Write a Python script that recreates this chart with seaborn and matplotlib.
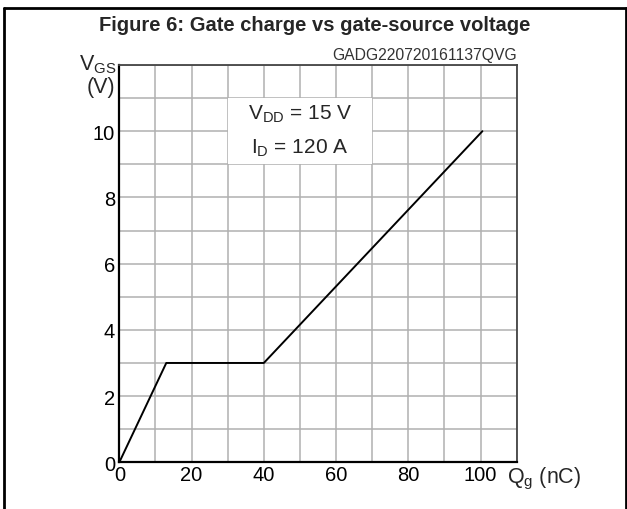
import numpy as np
import pandas as pd
import matplotlib.pyplot as plt
import seaborn as sns
from matplotlib.patches import Rectangle
from matplotlib.lines import Line2D

sns.set_theme(style="whitegrid")
plt.rcParams['font.family'] = ['Liberation Sans', 'DejaVu Sans']
plt.rcParams['mathtext.fontset'] = 'custom'
plt.rcParams['mathtext.rm'] = 'Liberation Sans'

# curve points
qg = [0, 13, 40, 100.5]
vgs = [0, 3, 3, 10]

x_ticks = [0, 10, 20, 30, 40, 50, 60, 70, 80, 90, 100, 110]
x_labels = ["0", "", "20", "", "40", "", "60", "", "80", "", "100", ""]
y_ticks = [0, 1, 2, 3, 4, 5, 6, 7, 8, 9, 10, 11, 12]
y_labels = ["0", "", "2", "", "4", "", "6", "", "8", "", "10", "", ""]

df = pd.DataFrame({"Qg": qg, "VGS": vgs})

fig = plt.figure(figsize=(6.27, 5.10), dpi=100)
ax = fig.add_axes([0.1903, 0.0916, 0.6338, 0.779])

sns.lineplot(data=df, x="Qg", y="VGS", ax=ax, color="black", linewidth=1.4,
             sort=False, zorder=3)

ax.set_xlim(0, 110)
ax.set_ylim(0, 12)
ax.set_xticks(x_ticks)
ax.set_xticklabels(x_labels)
ax.set_yticks(y_ticks)
ax.set_yticklabels(y_labels)
ax.tick_params(axis="both", length=0, labelsize=14.5, colors="black")
ax.tick_params(axis="x", pad=2)
ax.tick_params(axis="y", pad=3)
ax.grid(True, color="#b0b0b0", linewidth=1.1)
ax.set_axisbelow(True)
ax.set_xlabel("")
ax.set_ylabel("")

for side in ["left", "bottom"]:
    ax.spines[side].set_color("black")
    ax.spines[side].set_linewidth(1.6)
for side in ["top", "right"]:
    ax.spines[side].set_color("#444444")
    ax.spines[side].set_linewidth(1.3)

# white box behind the conditions text
ax.add_patch(Rectangle((30, 9), 40, 2, facecolor="white", edgecolor="none", zorder=1))
ax.text(50, 10.55, r"$\mathregular{V_{DD}}$ = 15 V", ha="center", va="center", fontsize=15, zorder=4)
ax.text(50, 9.5, r"$\mathregular{I_{D}}$ = 120 A", ha="center", va="center", fontsize=15, zorder=4)

ax.text(1.0, 1.008, "GADG220720161137QVG", transform=ax.transAxes, ha="right", va="bottom",
        fontsize=11.3, color="#333333")

fig.text(117 / 627, 1 - 70 / 510, r"$\mathregular{V_{GS}}$", ha="right", va="baseline", fontsize=15.5)
fig.text(115 / 627, 1 - 93 / 510, "(V)", ha="right", va="baseline", fontsize=15.5)
fig.text(507 / 627, 1 - 483 / 510, r"$\mathregular{Q_{g}}$ (nC)", ha="left", va="baseline", fontsize=15.5)

fig.text(0.502, 1 - 31 / 510, "Figure 6: Gate charge vs gate-source voltage", ha="center", va="baseline",
         fontsize=14.5, fontweight="bold")

# figure frame
fig.lines.append(Line2D([4 / 627, 4 / 627], [0, 1 - 9 / 510], transform=fig.transFigure, color="black", linewidth=2))
fig.lines.append(Line2D([4 / 627, 626 / 627], [1 - 9 / 510, 1 - 9 / 510], transform=fig.transFigure, color="black", linewidth=2))
fig.lines.append(Line2D([626 / 627, 626 / 627], [0, 1 - 9 / 510], transform=fig.transFigure, color="black", linewidth=2))

fig.savefig("out.png", dpi=100)
